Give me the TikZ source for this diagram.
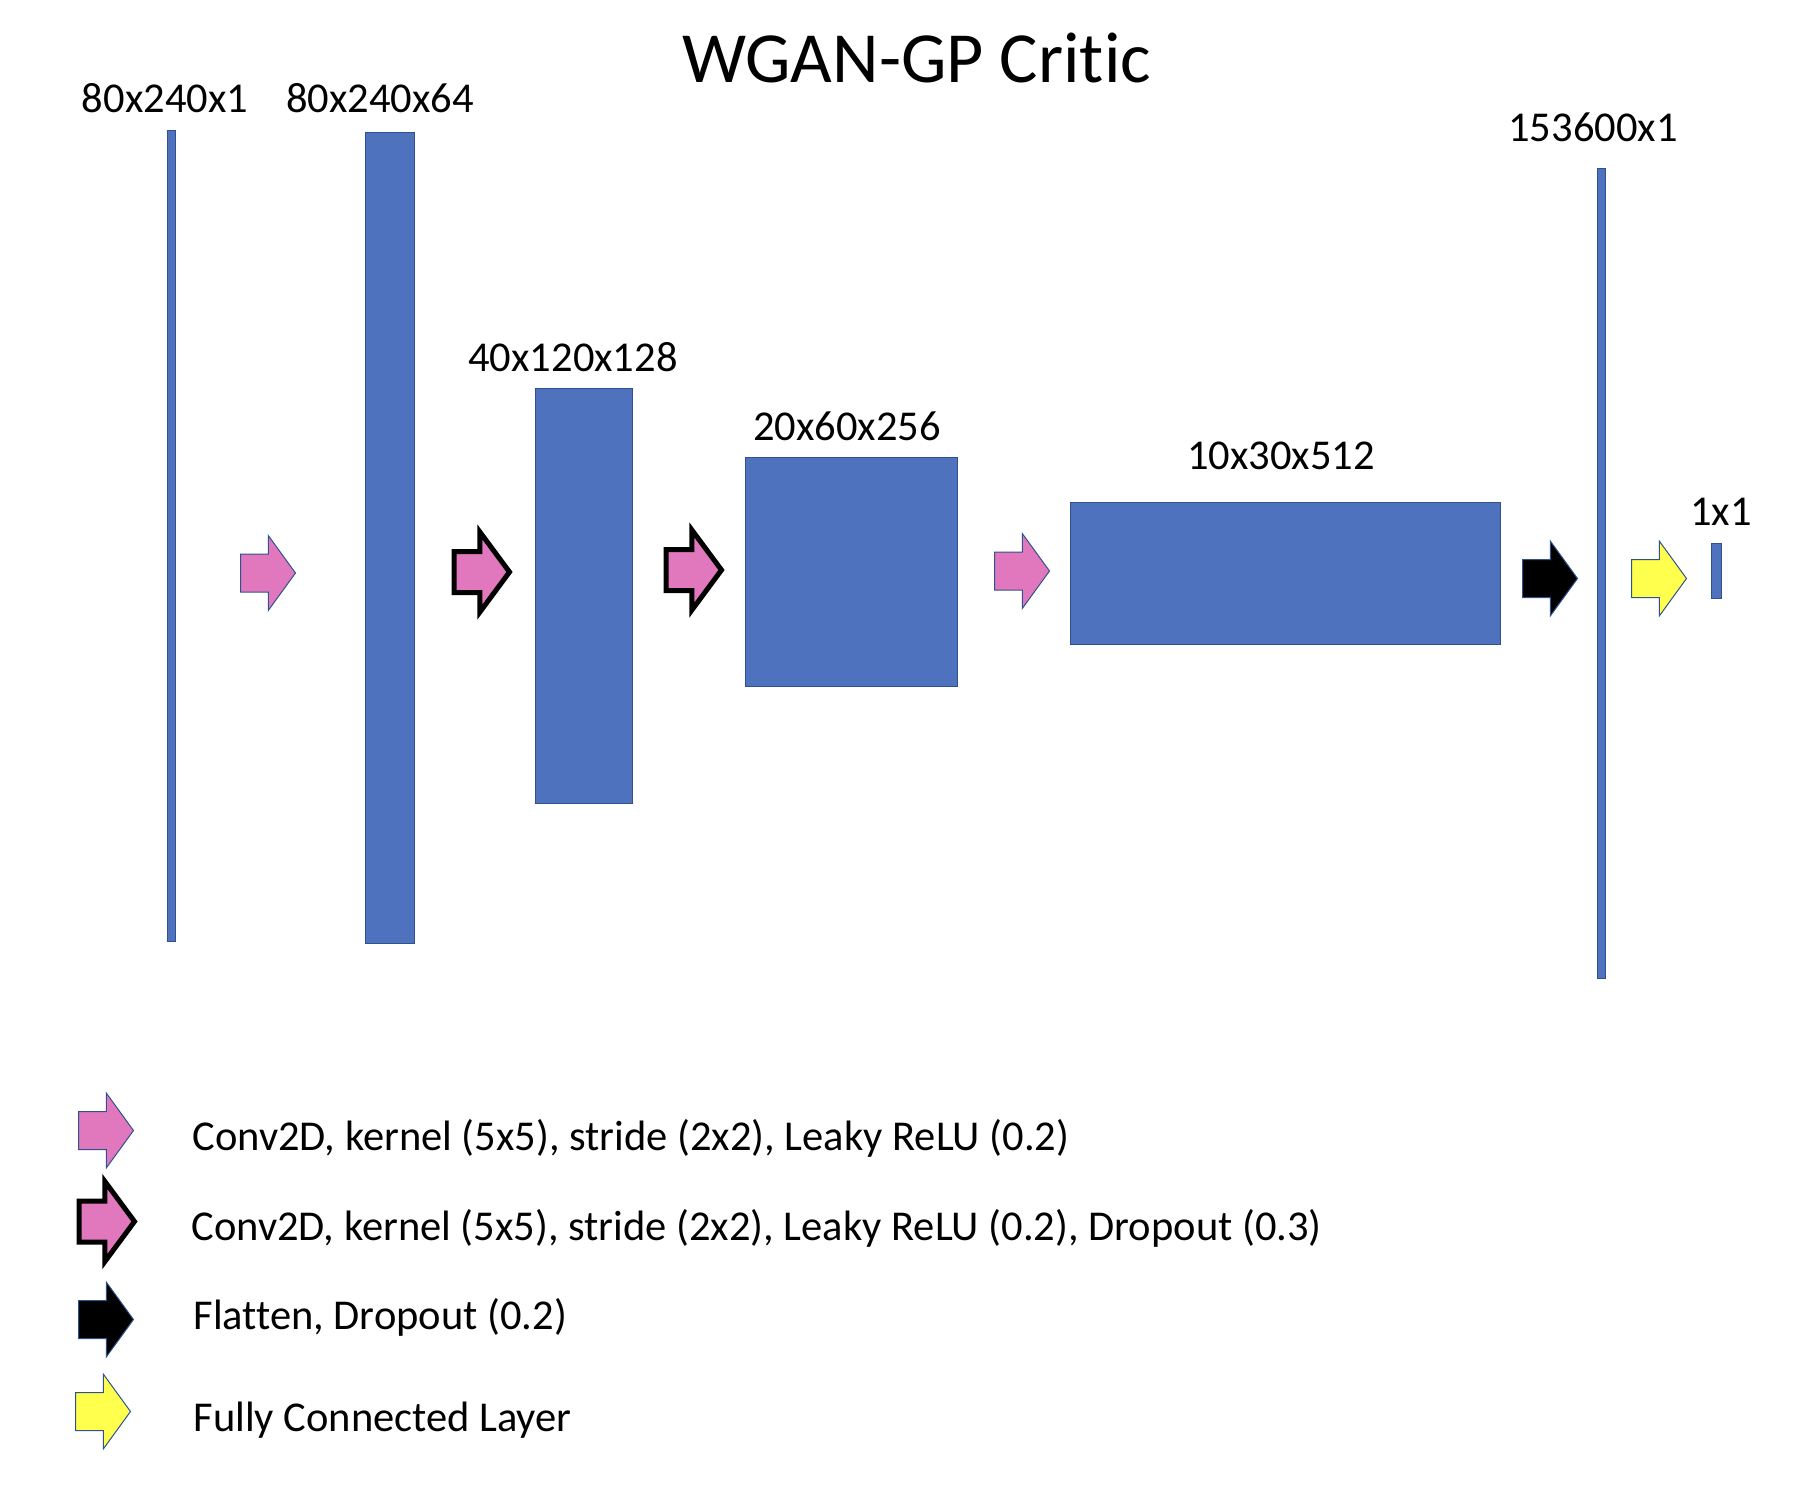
\documentclass[tikz,border=0pt]{standalone}
\usepackage{fontspec}
\setmainfont{Carlito}[Ligatures=NoCommon]
\usepackage{xcolor}
\usetikzlibrary{shapes,arrows,positioning}

\definecolor{layerblue}{RGB}{79,114,190}
\definecolor{edgeblue}{RGB}{47,82,143}
\definecolor{convpink}{RGB}{225,120,190}
\definecolor{fcyellow}{RGB}{255,255,77}

\tikzset{
  fmap/.style={rectangle, fill=layerblue, draw=edgeblue, line width=1pt, inner sep=0pt},
  blockarrow/.style={single arrow, anchor=tail, inner xsep=0pt, inner ysep=18.5pt,
    minimum width=0pt, minimum height=55pt, single arrow head extend=18.5pt,
    single arrow tip angle=108},
  conv/.style={blockarrow, fill=convpink, draw=edgeblue, line width=1pt},
  convdrop/.style={blockarrow, fill=convpink, draw=black, line width=5pt, inner ysep=18pt,
    single arrow head extend=19.5pt, single arrow tip angle=107, minimum height=55.5pt},
  flat/.style={blockarrow, fill=black, draw=edgeblue, line width=1pt},
  fc/.style={blockarrow, fill=fcyellow, draw=edgeblue, line width=1pt},
  dimlabel/.style={anchor=base, font=\fontsize{42.5}{50}\selectfont},
  legtext/.style={anchor=base west, font=\fontsize{42.5}{50}\selectfont}
}

\begin{document}
\begin{tikzpicture}[x=1pt, y=-1pt]
\useasboundingbox (0,0) rectangle (1804,1510);

\node[anchor=base, font=\fontsize{72}{86}\selectfont] (title) at (916.5,82) {WGAN-GP Critic};

% feature maps
\node[fmap, minimum width=8pt, minimum height=811pt] (in) at (171,535.5) {};
\node[fmap, minimum width=49pt, minimum height=811pt] (c1) at (389.5,537.5) {};
\node[fmap, minimum width=97pt, minimum height=415pt] (c2) at (583.5,595.5) {};
\node[fmap, minimum width=212pt, minimum height=229pt] (c3) at (851,571.5) {};
\node[fmap, minimum width=430pt, minimum height=142pt] (c4) at (1285,573) {};
\node[fmap, minimum width=8pt, minimum height=810pt] (fl) at (1601,573) {};
\node[fmap, minimum width=10pt, minimum height=55pt] (out) at (1716,570.5) {};

\node[dimlabel] (inlab) at (165,112) {80x240x1};
\node[dimlabel] (c1lab) at (380,112) {80x240x64};
\node[dimlabel] (c2lab) at (573,371) {40x120x128};
\node[dimlabel] (c3lab) at (847,440) {20x60x256};
\node[dimlabel] (c4lab) at (1281,469) {10x30x512};
\node[dimlabel] (fllab) at (1593,141) {153600x1};
\node[dimlabel] (outlab) at (1721,525) {1x1};

% operations
\node[conv] (op1) at (240,573) {};
\node[convdrop] (op2) at (451.5,572) {};
\node[convdrop] (op3) at (663.5,570) {};
\node[conv] (op4) at (994,571) {};
\node[flat] (op5) at (1522,578.5) {};
\node[fc] (op6) at (1631,578.5) {};

% legend
\node[conv] (k1) at (78,1130.5) {};
\node[convdrop] (k2) at (76.5,1221.5) {};
\node[flat] (k3) at (78,1319.5) {};
\node[fc] (k4) at (75,1411.5) {};

\node[legtext] (t1) at (189,1150) {Conv2D, kernel (5x5), stride (2x2), Leaky ReLU (0.2)};
\node[legtext] (t2) at (188,1240) {Conv2D, kernel (5x5), stride (2x2), Leaky ReLU (0.2), Dropout (0.3)};
\node[legtext] (t3) at (190,1329) {Flatten, Dropout (0.2)};
\node[legtext] (t4) at (190,1431) {Fully Connected Layer};
\end{tikzpicture}
\end{document}
